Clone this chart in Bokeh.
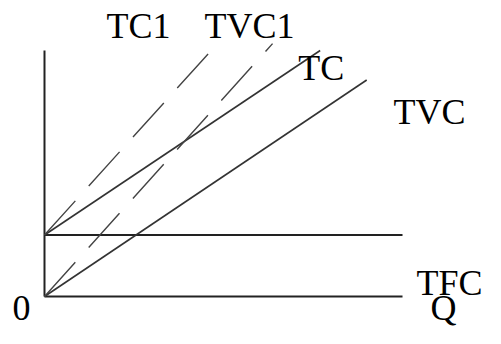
from bokeh.plotting import figure
from bokeh.models import ColumnDataSource, Range1d
from bokeh.core.properties import value
from bokeh.embed import file_html
from bokeh.resources import INLINE

# ---- data (Q on x, cost on y) ----
q_max = 10.0
cost_axis_top = 10.0
tfc = 2.5
tvc_q = [0.0, 9.0]
tvc_cost = [0.0, 8.8]
tc_q = [0.0, 7.7]
tc_cost = [2.5, 10.0]
tc1_q = [0.0, 4.83]
tc1_cost = [2.5, 10.28]
tvc1_q = [0.0, 6.37]
tvc1_cost = [0.0, 10.28]

labels = ["TC1", "TVC1", "TC", "TVC", "TFC", "Q", "0"]
label_x = [1.73, 4.47, 7.09, 9.75, 10.39, 10.78, -0.894]
label_y = [10.98, 10.98, 9.27, 7.48, 0.53, -0.45, -0.45]

W, H = 485, 328
p = figure(width=W, height=H, output_backend="svg", toolbar_location=None,
           x_range=Range1d(-1.229, 12.318), y_range=Range1d(-1.301, 12.033),
           min_border=0, outline_line_color=None)
p.axis.visible = False
p.grid.visible = False
p.background_fill_color = "white"
p.border_fill_color = "white"

ink = "#222222"
# axes
p.line([0, 0], [0, cost_axis_top], line_color=ink, line_width=2)
p.line([0, q_max], [0, 0], line_color=ink, line_width=2)
# TFC
p.line([0, q_max], [tfc, tfc], line_color=ink, line_width=2)
# TC, TVC
p.line(tc_q, tc_cost, line_color="#333333", line_width=1.6)
p.line(tvc_q, tvc_cost, line_color="#333333", line_width=1.6)
# TC1, TVC1 dashed
p.line(tc1_q, tc1_cost, line_color="#444444", line_width=1.4, line_dash="46 20")
p.line(tvc1_q, tvc1_cost, line_color="#444444", line_width=1.4, line_dash="46 20")

src = ColumnDataSource(dict(x=label_x, y=label_y, t=labels))
p.text(x="x", y="y", text="t", source=src, text_font=value("Liberation Serif"),
       text_font_size="36px", text_color="black", text_align="left",
       text_baseline="alphabetic")

open("out.html", "w").write(file_html(p, INLINE))
